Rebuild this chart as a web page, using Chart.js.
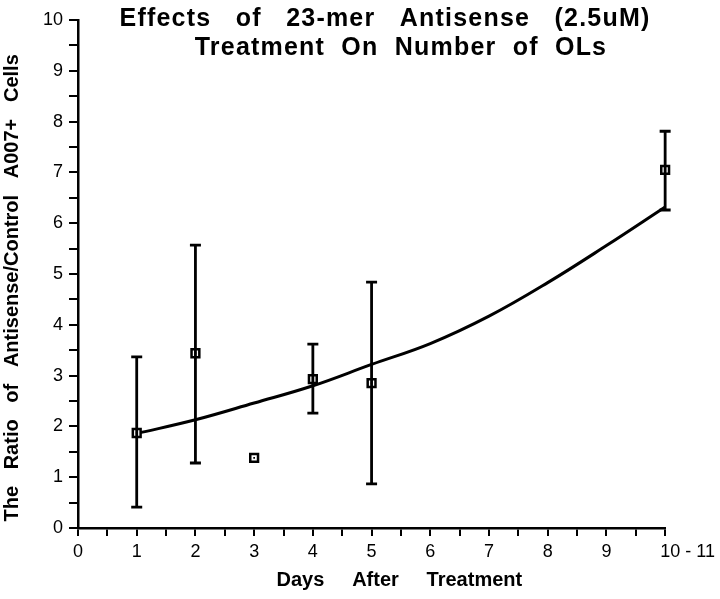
<!DOCTYPE html>
<html>
<head>
<meta charset="utf-8">
<script src="https://cdn.jsdelivr.net/npm/chart.js@4/dist/chart.umd.min.js"></script>
<style>
  html, body { margin: 0; padding: 0; background: #fff; }
  #wrap { width: 720px; height: 599px; }
</style>
</head>
<body>
<div id="wrap"><canvas id="chart" width="720" height="599"></canvas></div>
<script>
// measured ratios (antisense / control)
const days = [1, 2, 3, 4, 5, 10];
const ratios = [1.87, 3.44, 1.38, 2.93, 2.85, 7.05];
const errHigh = [3.37, 5.57, null, 3.62, 4.84, 7.81];
const errLow = [0.41, 1.28, null, 2.26, 0.87, 6.26];

// fitted curve
const fitDays = [1, 2, 3, 4, 5, 6, 7, 8, 9, 10];
const fitRatios = [1.86, 2.13, 2.46, 2.8, 3.22, 3.63, 4.17, 4.83, 5.56, 6.32];

const titleLines = ['Effects   of   23-mer   Antisense   (2.5uM)', 'Treatment  On  Number  of  OLs'];

const FONT = "'Liberation Sans', Arial, Helvetica, sans-serif";

const errorBars = {
  id: 'errorBars',
  afterDatasetsDraw(chart){
    const { ctx, scales: { x, y } } = chart;
    ctx.save();
    ctx.strokeStyle = '#000';
    ctx.lineWidth = 2.8;
    days.forEach((d, i) => {
      if (errHigh[i] == null) return;
      const px = x.getPixelForValue(d);
      const top = y.getPixelForValue(errHigh[i]);
      const bot = y.getPixelForValue(errLow[i]);
      ctx.beginPath();
      ctx.moveTo(px, top); ctx.lineTo(px, bot);
      ctx.moveTo(px - 5.5, top); ctx.lineTo(px + 5.5, top);
      ctx.moveTo(px - 5.5, bot); ctx.lineTo(px + 5.5, bot);
      ctx.stroke();
    });
    ctx.restore();
  }
};

const titlePlugin = {
  id: 'plotTitle',
  afterDraw(chart){
    const { ctx } = chart;
    ctx.save();
    ctx.fillStyle = '#000';
    ctx.font = 'bold 25px ' + FONT;
    if ('letterSpacing' in ctx) ctx.letterSpacing = '1.2px';
    ctx.textAlign = 'center';
    ctx.textBaseline = 'middle';
    ctx.fillText(titleLines[0], 385, 19);
    ctx.fillText(titleLines[1], 401, 48);
    ctx.restore();
  }
};

new Chart(document.getElementById('chart').getContext('2d'), {
  type: 'scatter',
  data: {
    datasets: [
      {
        type: 'line',
        data: fitDays.map((d, i) => ({ x: d, y: fitRatios[i] })),
        borderColor: '#000',
        borderWidth: 3,
        pointRadius: 0,
        tension: 0.4,
        fill: false,
        clip: false,
        order: 3
      },
      {
        data: days.map((d, i) => ({ x: d, y: ratios[i] })),
        pointStyle: 'rect',
        pointRadius: 5.5,
        borderWidth: 2.5,
        borderColor: '#000',
        backgroundColor: '#fff',
        clip: false,
        order: 1
      },
      {
        data: days.map((d, i) => ({ x: d, y: ratios[i] })),
        pointStyle: 'rect',
        pointRadius: 1.2,
        borderWidth: 0,
        backgroundColor: '#000',
        clip: false,
        order: 0
      }
    ]
  },
  options: {
    responsive: false,
    animation: false,
    layout: { padding: { top: 20, right: 53, left: 0, bottom: 0 } },
    plugins: { legend: { display: false }, tooltip: { enabled: false }, title: { display: false } },
    scales: {
      x: {
        type: 'linear',
        min: 0, max: 10,
        afterFit(scale){ scale.height = 71; },
        border: { display: true, color: '#000', width: 2.5 },
        grid: { drawOnChartArea: false, drawTicks: true, tickLength: 8, color: '#000', lineWidth: 2 },
        ticks: {
          stepSize: 0.5,
          autoSkip: false,
          maxRotation: 0,
          padding: 5,
          color: '#000',
          font: { family: FONT, size: 18 },
          callback: v => Number.isInteger(v) ? (v === 10 ? '         10 - 11' : String(v)) : ''
        },
        title: {
          display: true,
          text: '          Days     After     Treatment',
          color: '#000',
          font: { family: FONT, size: 20, weight: 'bold' },
          padding: { top: 0, bottom: 7 }
        }
      },
      y: {
        type: 'linear',
        min: 0, max: 10,
        afterFit(scale){ scale.width = 78; },
        border: { display: true, color: '#000', width: 2.5 },
        grid: { drawOnChartArea: false, drawTicks: true, tickLength: 9, color: '#000', lineWidth: 2 },
        ticks: {
          stepSize: 0.5,
          autoSkip: false,
          padding: 6,
          color: '#000',
          font: { family: FONT, size: 18 },
          callback: v => Number.isInteger(v) ? String(v) : ''
        },
        title: {
          display: true,
          text: 'The   Ratio   of   Antisense/Control   A007+   Cells     ',
          color: '#000',
          font: { family: FONT, size: 20, weight: 'bold' },
          padding: { top: 0, bottom: 5 }
        }
      }
    }
  },
  plugins: [errorBars, titlePlugin]
});
</script>
</body>
</html>
